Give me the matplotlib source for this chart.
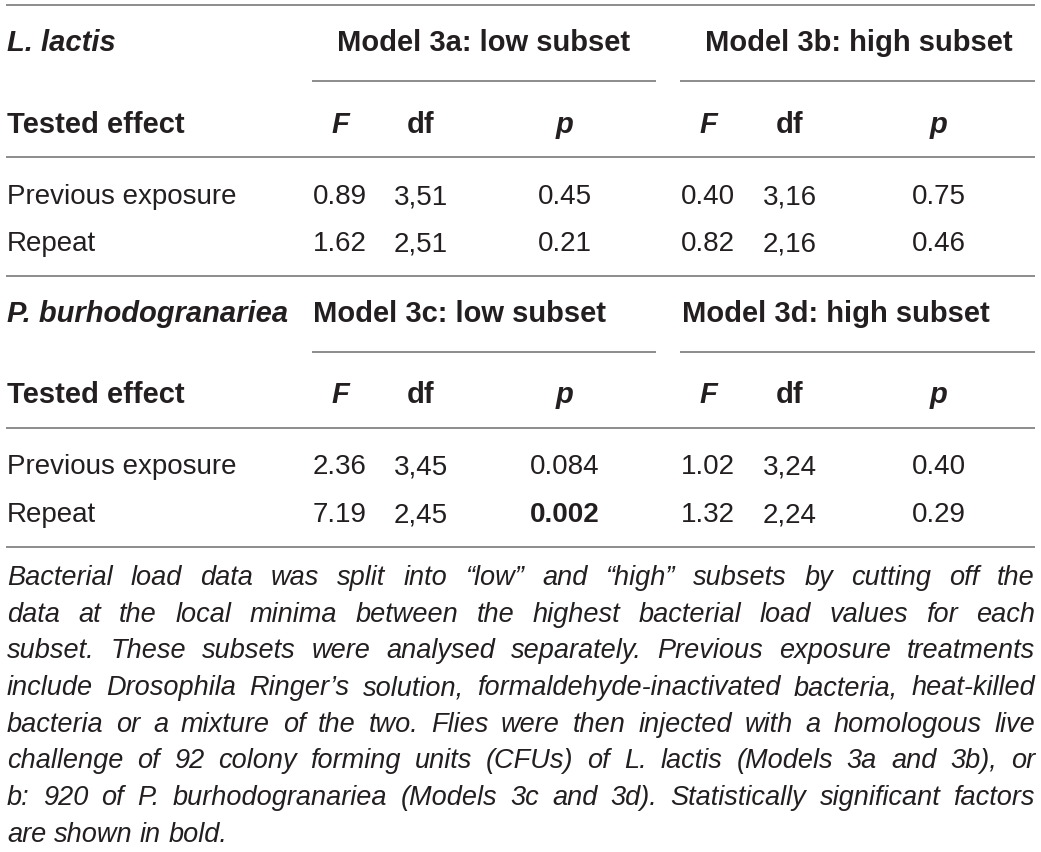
import matplotlib
matplotlib.use("Agg")
import matplotlib.pyplot as plt

# table content
species = ["L. lactis", "P. burhodogranariea"]
model_low = ["Model 3a: low subset", "Model 3c: low subset"]
model_high = ["Model 3b: high subset", "Model 3d: high subset"]
col_heads = ["F", "df", "p", "F", "df", "p"]
effects = ["Previous exposure", "Repeat"]

f_low = [["0.89", "1.62"], ["2.36", "7.19"]]
df_low = [["3,51", "2,51"], ["3,45", "2,45"]]
p_low = [["0.45", "0.21"], ["0.084", "0.002"]]
f_high = [["0.40", "0.82"], ["1.02", "1.32"]]
df_high = [["3,16", "2,16"], ["3,24", "2,24"]]
p_high = [["0.75", "0.46"], ["0.40", "0.29"]]
p_bold = [[False, False], [False, True]]

caption_lines = [
    "Bacterial load data was split into \u201clow\u201d and \u201chigh\u201d subsets by cutting off the",
    "data at the local minima between the highest bacterial load values for each",
    "subset. These subsets were analysed separately. Previous exposure treatments",
    "include Drosophila Ringer\u2019s solution, formaldehyde-inactivated bacteria, heat-killed",
    "bacteria or a mixture of the two. Flies were then injected with a homologous live",
    "challenge of 92 colony forming units (CFUs) of L. lactis (Models 3a and 3b), or",
    "b: 920 of P. burhodogranariea (Models 3c and 3d). Statistically significant factors",
    "are shown in bold.",
]

W, H = 1041, 853
plt.rcParams['font.family'] = ['Liberation Sans', 'DejaVu Sans']
fig = plt.figure(figsize=(W / 100, H / 100), dpi=100)
ax = fig.add_axes([0, 0, 1, 1])
ax.set_xlim(0, W)
ax.set_ylim(H, 0)
ax.axis("off")

txt = "#231f20"
rule = "#8c8c8c"
fs = 20
fs_b = 21
left, right = 6, 1035
col_x = [340, 421, 565, 708, 790, 939]

def hline(y, x0=left, x1=right):
    ax.plot([x0, x1], [y, y], color=rule, lw=1.4, solid_capstyle="butt")

# block geometry: top rule, header baseline, sub rule, col header baseline, rule, row baselines
blocks = [
    dict(top=6, head=51, sub=82, cols=133, mid=158, rows=[204, 251], bottom=277,
         low_x=337, high_x=705),
    dict(top=None, head=322, sub=353, cols=403, mid=429, rows=[474, 522], bottom=548,
         low_x=313, high_x=682),
]

for b, blk in enumerate(blocks):
    if blk["top"] is not None:
        hline(blk["top"])
    ax.text(7, blk["head"], species[b], fontsize=fs_b, weight="bold", style="italic",
            color=txt, va="baseline", ha="left")
    ax.text(blk["low_x"], blk["head"], model_low[b], fontsize=fs_b, weight="bold",
            color=txt, va="baseline", ha="left")
    ax.text(blk["high_x"], blk["head"], model_high[b], fontsize=fs_b, weight="bold",
            color=txt, va="baseline", ha="left")
    hline(blk["sub"], 312, 656)
    hline(blk["sub"], 680, right)
    ax.text(7, blk["cols"], "Tested effect", fontsize=fs_b, weight="bold",
            color=txt, va="baseline", ha="left")
    for x, h in zip(col_x, col_heads):
        st = "normal" if h == "df" else "italic"
        ax.text(x, blk["cols"], h, fontsize=fs_b, weight="bold", style=st,
                color=txt, va="baseline", ha="center")
    hline(blk["mid"])
    for r, y in enumerate(blk["rows"]):
        ax.text(7, y, effects[r], fontsize=fs, color=txt, va="baseline", ha="left")
        vals = [f_low[b][r], df_low[b][r], p_low[b][r],
                f_high[b][r], df_high[b][r], p_high[b][r]]
        for c, (x, v) in enumerate(zip(col_x, vals)):
            wt = "bold" if (c == 2 and p_bold[b][r]) else "normal"
            ax.text(x, y, v, fontsize=fs, weight=wt, color=txt,
                    va="baseline", ha="center")
    hline(blk["bottom"])

# justified italic caption
renderer = fig.canvas.get_renderer()
cap_fs = 19.5
y0, step = 585, 36.7
for i, line in enumerate(caption_lines):
    y = y0 + i * step
    words = line.split(" ")
    objs = [ax.text(0, y, w, fontsize=cap_fs, style="italic", color=txt,
                     va="baseline", ha="left") for w in words]
    widths = [o.get_window_extent(renderer).width for o in objs]
    if i == len(caption_lines) - 1:
        t1 = ax.text(0, y, "a a", fontsize=cap_fs, style="italic")
        t2 = ax.text(0, y, "aa", fontsize=cap_fs, style="italic")
        gap = t1.get_window_extent(renderer).width - t2.get_window_extent(renderer).width
        t1.remove()
        t2.remove()
    else:
        gap = (right - 7 - sum(widths)) / (len(words) - 1)
    x = 7
    for o, w in zip(objs, widths):
        o.set_x(x)
        x += w + gap

fig.savefig("out.png", dpi=100, facecolor="white")
